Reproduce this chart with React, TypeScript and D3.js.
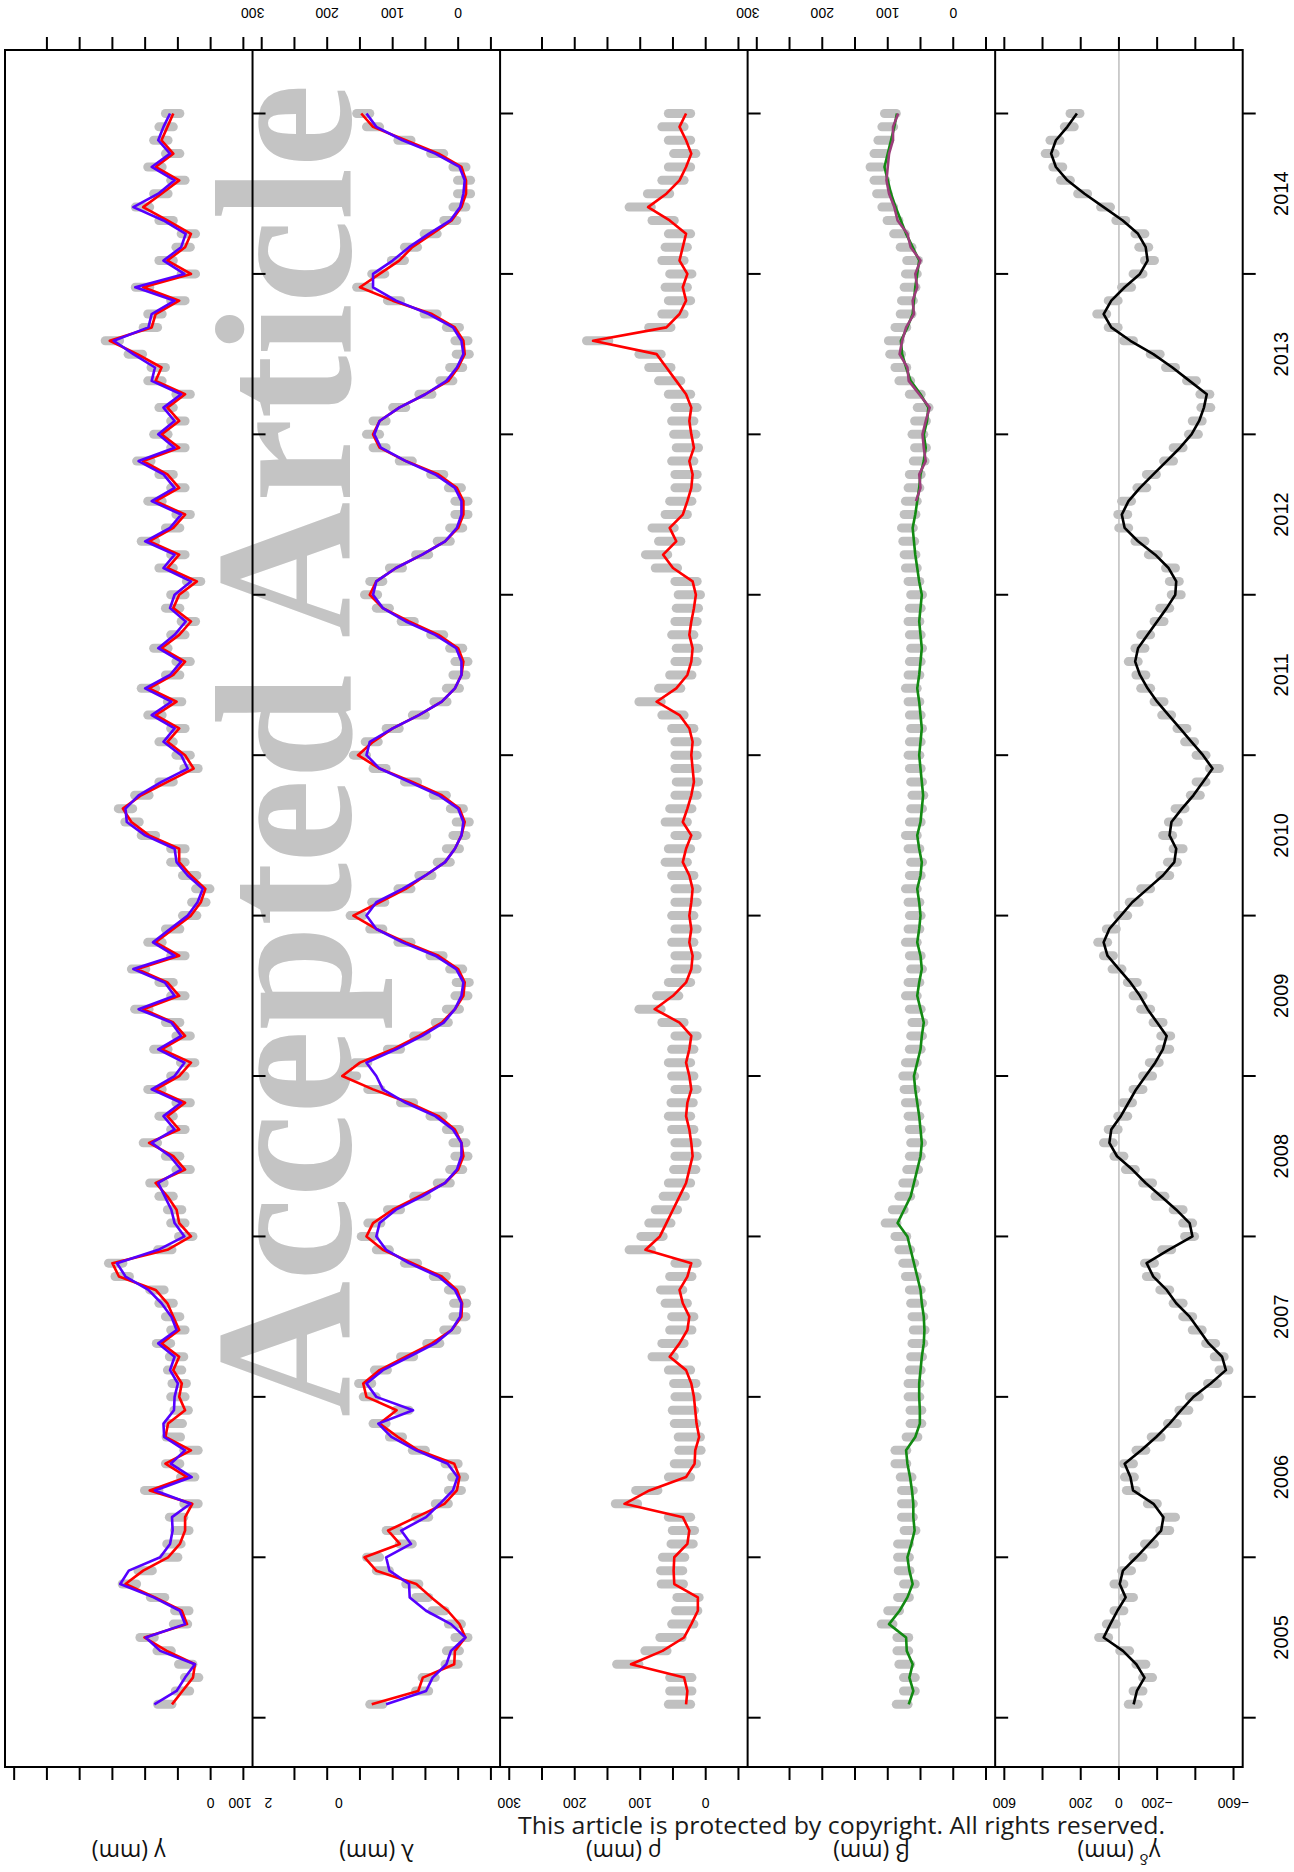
import React from "react";
import * as d3 from "d3";

// ---------- DATA (monthly, Jan 2005 .. Dec 2014) ----------
const years = [2005, 2006, 2007, 2008, 2009, 2010, 2011, 2012, 2013, 2014];

const gammaRed = [
  59, 43, 27, 24, 67, 101, 36, 44, 85, 130, 103, 65,
  47, 39, 39, 28, 93, 36, 69, 30, 69, 65, 39, 48,
  44, 57, 48, 75, 48, 57, 66, 84, 140, 150, 66, 30,
  48, 52, 66, 84, 39, 57, 94, 48, 66, 39, 84, 48,
  30, 75, 39, 57, 103, 48, 66, 112, 48, 84, 57, 30,
  15, 8, 30, 48, 48, 94, 121, 134, 106, 66, 26, 39,
  66, 48, 84, 52, 94, 57, 39, 75, 48, 30, 57, 48,
  21, 66, 48, 94, 57, 39, 84, 48, 66, 103, 48, 75,
  48, 66, 39, 84, 75, 112, 154, 90, 84, 48, 103, 30,
  66, 39, 30, 66, 103, 75, 48, 84, 57, 75, 66, 57,
];
const gammaBlue = [
  86, 52, 39, 24, 77, 99, 39, 47, 87, 138, 125, 77,
  62, 58, 59, 31, 85, 29, 61, 39, 71, 72, 56, 55,
  50, 62, 55, 80, 52, 60, 75, 95, 130, 143, 80, 40,
  55, 60, 70, 80, 45, 62, 90, 55, 72, 45, 90, 55,
  40, 80, 45, 60, 110, 55, 70, 118, 55, 88, 62, 35,
  20, 12, 35, 52, 55, 100, 128, 130, 110, 75, 35, 45,
  72, 55, 90, 60, 100, 62, 45, 80, 55, 38, 62, 55,
  30, 72, 55, 100, 62, 45, 90, 55, 72, 110, 55, 80,
  55, 72, 45, 90, 85, 118, 148, 95, 90, 55, 115, 40,
  72, 45, 38, 72, 118, 80, 55, 90, 62, 80, 72, 62,
];
const gammaObs = [
  70, 43, 29, 38, 71, 97, 46, 44, 81, 124, 100, 61,
  56, 44, 52, 30, 90, 35, 58, 30, 57, 54, 45, 50,
  48, 55, 52, 72, 50, 58, 68, 82, 135, 145, 70, 38,
  50, 55, 68, 82, 42, 58, 92, 50, 68, 42, 85, 50,
  35, 76, 42, 58, 105, 50, 68, 110, 50, 85, 58, 32,
  18, 12, 32, 50, 50, 95, 120, 130, 105, 68, 30, 42,
  68, 50, 85, 55, 95, 58, 42, 76, 50, 34, 58, 50,
  26, 68, 50, 95, 58, 42, 85, 50, 68, 102, 50, 76,
  50, 68, 42, 85, 80, 115, 150, 92, 85, 50, 104, 34,
  68, 42, 34, 68, 104, 76, 50, 85, 58, 76, 68, 58,
];

const lambdaRed = [
  132, 61, 54, 6, 5, -11, -2, 16, 41, 64, 125, 143,
  89, 107, 64, 21, 2, -2, 6, 61, 92, 120, 94, 140,
  145, 120, 80, 40, 10, -5, -6, 2, 25, 70, 115, 140,
  130, 100, 60, 20, 0, -8, -5, 5, 30, 75, 130, 177,
  150, 100, 60, 25, 5, -8, -10, 0, 30, 80, 125, 160,
  120, 80, 50, 20, 5, -5, -10, -2, 25, 70, 120, 153,
  130, 100, 60, 25, 5, -5, -8, 0, 30, 75, 115, 135,
  125, 95, 55, 20, 0, -8, -8, 2, 30, 80, 120, 130,
  120, 90, 50, 15, 0, -10, -8, 5, 40, 100, 150, 120,
  90, 70, 40, 10, -5, -12, -12, -5, 30, 80, 130, 148,
];
const lambdaBlue = [
  110, 49, 39, 18, 11, -11, 11, 49, 74, 75, 105, 110,
  72, 87, 49, 28, 8, 1, 16, 64, 102, 122, 69, 125,
  140, 115, 75, 35, 10, -3, -5, 5, 30, 75, 110, 125,
  120, 95, 55, 20, 2, -5, -5, 8, 35, 80, 115, 125,
  140, 95, 55, 22, 5, -5, -8, 3, 35, 85, 125, 140,
  125, 85, 50, 20, 5, -5, -8, 0, 30, 75, 120, 140,
  135, 100, 60, 25, 5, -5, -5, 3, 35, 80, 115, 130,
  125, 95, 55, 20, 2, -5, -5, 5, 35, 80, 118, 128,
  120, 90, 50, 18, 2, -8, -5, 8, 45, 95, 130, 130,
  100, 75, 45, 12, -3, -8, -10, -2, 35, 85, 125, 140,
];
const lambdaObs = [
  125, 55, 45, 10, 8, -5, 5, 30, 55, 70, 115, 130,
  80, 100, 55, 25, 5, 0, 10, 60, 95, 120, 85, 135,
  142, 118, 78, 38, 12, -2, -3, 5, 28, 72, 115, 138,
  128, 98, 58, 22, 3, -5, -2, 8, 33, 78, 128, 165,
  148, 98, 58, 25, 8, -5, -7, 3, 33, 82, 125, 155,
  122, 82, 50, 22, 8, -2, -7, 2, 28, 72, 120, 150,
  132, 100, 60, 27, 8, -2, -5, 3, 32, 77, 115, 133,
  125, 95, 55, 22, 3, -5, -5, 5, 32, 80, 120, 130,
  120, 90, 50, 18, 3, -7, -5, 8, 42, 98, 145, 122,
  92, 72, 42, 12, -2, -9, -9, -2, 32, 82, 130, 145,
];

const rhoRed = [
  30, 28, 33, 114, 66, 33, 22, 12, 12, 48, 49, 48,
  28, 25, 35, 124, 86, 30, 17, 16, 10, 14, 16, 18,
  22, 30, 55, 40, 28, 25, 35, 40, 28, 22, 92, 70,
  60, 50, 40, 30, 25, 20, 22, 25, 30, 28, 22, 25,
  30, 25, 22, 40, 78, 50, 30, 22, 20, 25, 22, 25,
  22, 20, 25, 35, 30, 22, 35, 28, 22, 18, 20, 22,
  20, 25, 40, 75, 45, 28, 22, 20, 25, 22, 18, 15,
  20, 50, 65, 45, 55, 35, 28, 22, 20, 25, 18, 22,
  25, 22, 30, 45, 60, 75, 172, 60, 40, 30, 35, 28,
  40, 35, 30, 55, 88, 60, 40, 30, 22, 30, 40, 30,
];
const rhoObs = [
  40, 38, 38, 119, 76, 53, 35, 29, 27, 51, 52, 49,
  36, 34, 40, 121, 90, 40, 31, 24, 25, 31, 34, 30,
  32, 40, 65, 50, 38, 35, 45, 52, 38, 30, 100, 82,
  70, 60, 48, 40, 32, 30, 30, 35, 40, 36, 30, 35,
  40, 35, 30, 50, 85, 58, 40, 30, 30, 35, 30, 35,
  30, 30, 35, 45, 40, 30, 45, 38, 30, 28, 30, 30,
  30, 35, 50, 85, 55, 38, 30, 28, 35, 30, 28, 25,
  30, 60, 75, 55, 65, 45, 38, 30, 30, 35, 28, 32,
  35, 30, 40, 55, 70, 85, 165, 70, 50, 40, 45, 38,
  50, 45, 40, 65, 100, 72, 50, 40, 32, 40, 50, 40,
];

const betaGreen = [
  68, 61, 67, 62, 71, 72, 98, 82, 70, 62, 67, 70,
  64, 59, 61, 61, 63, 66, 70, 72, 58, 51, 51, 52,
  52, 50, 48, 45, 44, 45, 48, 50, 55, 60, 65, 70,
  85, 75, 65, 60, 55, 50, 48, 50, 52, 55, 58, 60,
  55, 50, 48, 45, 50, 55, 52, 48, 50, 55, 52, 50,
  52, 55, 50, 48, 52, 55, 50, 48, 46, 48, 50, 52,
  50, 48, 50, 52, 55, 52, 50, 48, 50, 52, 50, 48,
  52, 55, 58, 60, 62, 58, 55, 52, 50, 45, 42, 45,
  40, 38, 50, 65, 72, 78, 80, 70, 62, 60, 58, 55,
  52, 62, 72, 80, 88, 95, 100, 105, 100, 95, 90, 86,
];
// second β series, only from Jul 2012 (index 90) onwards
const betaSecondStart = 90;
const betaSecond = [
  57, 50, 52, 42, 45, 47,
  42, 36, 52, 68, 70, 82, 78, 72, 60, 62, 55, 58,
  50, 65, 70, 85, 90, 98, 102, 100, 98, 92, 92, 84,
];
const betaObs = [
  78, 67, 67, 74, 77, 77, 101, 91, 76, 67, 75, 76,
  76, 66, 70, 70, 70, 72, 80, 80, 63, 57, 57, 60,
  60, 58, 56, 54, 52, 54, 56, 58, 64, 68, 74, 80,
  95, 84, 74, 68, 62, 58, 56, 58, 60, 64, 66, 68,
  64, 58, 56, 54, 58, 64, 60, 56, 58, 64, 60, 58,
  60, 64, 58, 56, 60, 64, 58, 56, 54, 56, 58, 60,
  58, 56, 58, 60, 64, 60, 58, 56, 58, 60, 58, 56,
  60, 64, 66, 68, 70, 66, 64, 60, 58, 52, 50, 54,
  50, 46, 58, 74, 80, 88, 90, 80, 72, 70, 66, 64,
  62, 72, 82, 92, 100, 108, 112, 118, 112, 106, 100, 96,
];

const gdBlack = [
  -77, -94, -134, -91, -21, 80, 45, 8, -35, -4, -21, -91,
  -157, -221, -233, -181, -74, -60, -30, -117, -195, -265, -326, -390,
  -480, -560, -540, -470, -420, -370, -300, -250, -180, -145, -260, -385,
  -370, -300, -220, -140, -70, 10, 50, 40, -10, -50, -90, -140,
  -190, -230, -250, -200, -150, -110, -60, 0, 60, 80, 50, -10,
  -70, -150, -230, -290, -300, -265, -275, -330, -390, -440, -490, -440,
  -380, -320, -260, -200, -150, -110, -85, -100, -150, -200, -250, -295,
  -300, -260, -190, -100, -30, -15, -50, -110, -180, -250, -320, -380,
  -420, -445, -460, -370, -280, -180, -60, 40, 80, 40, -30, -110,
  -150, -140, -100, -20, 80, 180, 270, 330, 355, 330, 270, 220,
];
const gdObs = [
  -75, -100, -150, -115, -30, 80, 40, 0, -50, 0, -40, -100,
  -160, -240, -270, -175, -65, -55, -50, -115, -195, -280, -340, -395,
  -490, -550, -525, -480, -410, -360, -310, -240, -170, -160, -250, -370,
  -360, -310, -215, -150, -60, 0, 55, 30, -20, -45, -100, -150,
  -185, -240, -245, -205, -140, -100, -70, 10, 55, 85, 40, -20,
  -80, -140, -240, -280, -310, -255, -285, -320, -400, -430, -500, -430,
  -370, -330, -250, -210, -140, -115, -75, -110, -140, -210, -240, -300,
  -290, -270, -180, -110, -25, -20, -40, -120, -170, -260, -310, -390,
  -410, -455, -450, -380, -270, -190, -50, 30, 90, 30, -40, -100,
  -160, -130, -110, -10, 70, 190, 280, 320, 360, 335, 260, 230,
];

// axis ticks / labels
const mmTicksFull = [300, 250, 200, 150, 100, 50, 0, -50];
const mmTicksShort = [250, 200, 150, 100, 50, 0, -50];
const mmLabels = [300, 200, 100, 0];
const gdTicks = [600, 400, 200, 0, -200, -400, -600];
const gdLabels = [600, 200, 0, -200, -600];
const gammaLabels = [0];
const strayBottomLabels = [
  { text: "100", value: -45 },
  { text: "2", value: -88 },
  { text: "0", value: -196 },
];
const timeTicks = [2005, 2006, 2007, 2008, 2009, 2010, 2011, 2012, 2013, 2014, 2015];

// ---------- LAYOUT ----------
const PL = 5, PR = 1242.7, PT = 50, PB = 1767;
const PW = (PR - PL) / 5;
const MM_DOMAIN = [314, -64];
const GD_DOMAIN = [648, -648];
const TICK = 13;
const SANS = "'Liberation Sans', Arial, sans-serif";
const HUMAN = "'Open Sans', 'Noto Sans', sans-serif";

const fmt = (v: number) => (v < 0 ? "\u2212" + Math.abs(v) : String(v));

export default function App() {
  const yScale = d3.scaleLinear().domain([2005, 2015]).range([1717.7, 113.5]);
  const times = d3.range(120).map((i) => 2005 + (i + 1) / 12);

  const mk = (k: number, dom: number[]) =>
    d3.scaleLinear().domain(dom).range([PL + k * PW, PL + (k + 1) * PW]);

  const panels = [
    {
      title: "γ", x: mk(0, MM_DOMAIN), obs: gammaObs, spread: 11,
      lines: [{ v: gammaRed, c: "#ff0000", s: 0 }, { v: gammaBlue, c: "#5500ff", s: 0 }],
      bottomTicks: mmTicksFull, topTicks: mmTicksShort, bottomLabels: gammaLabels, topLabels: [] as number[],
    },
    {
      title: "λ", x: mk(1, MM_DOMAIN), obs: lambdaObs, spread: 10,
      lines: [{ v: lambdaRed, c: "#ff0000", s: 0 }, { v: lambdaBlue, c: "#5500ff", s: 0 }],
      bottomTicks: mmTicksShort, topTicks: mmTicksFull, bottomLabels: [] as number[], topLabels: mmLabels,
    },
    {
      title: "ρ", x: mk(2, MM_DOMAIN), obs: rhoObs, spread: 17,
      lines: [{ v: rhoRed, c: "#ff0000", s: 0 }],
      bottomTicks: mmTicksFull, topTicks: mmTicksShort, bottomLabels: mmLabels, topLabels: [] as number[],
    },
    {
      title: "β", x: mk(3, MM_DOMAIN), obs: betaObs, spread: 9,
      lines: [{ v: betaGreen, c: "#128a12", s: 0 }, { v: betaSecond, c: "#9b3d7a", s: betaSecondStart }],
      bottomTicks: mmTicksShort, topTicks: mmTicksFull, bottomLabels: [] as number[], topLabels: mmLabels,
    },
    {
      title: "γδ", x: mk(4, GD_DOMAIN), obs: gdObs, spread: 26,
      lines: [{ v: gdBlack, c: "#000000", s: 0 }],
      bottomTicks: gdTicks, topTicks: gdTicks, bottomLabels: gdLabels, topLabels: [] as number[],
    },
  ];

  return (
    <svg
      width={1294}
      height={1872}
      style={{ position: "absolute", left: 0, top: 0, background: "#fff" }}
    >
      <rect x={0} y={0} width={1294} height={1872} fill="#fff" />
      {/* watermark */}
      <text
        transform={`translate(350,1417) rotate(-90)`}
        fontFamily="'Liberation Serif', 'Times New Roman', serif"
        fontWeight="bold"
        fontSize={196}
        fill="#c4c4c4"
        textLength={1333}
        lengthAdjust="spacingAndGlyphs"
      >
        Accepted Article
      </text>

      {/* γδ zero line */}
      <line
        x1={panels[4].x(0)} x2={panels[4].x(0)} y1={PT} y2={PB}
        stroke="#bdbdbd" strokeWidth={1.5}
      />

      {panels.map((p, k) => (
        <g key={k}>
          {/* grey bars */}
          {p.obs.map((v, i) => (
            <line
              key={"b" + i}
              x1={p.x(v + p.spread)}
              x2={p.x(v - p.spread)}
              y1={yScale(times[i])}
              y2={yScale(times[i])}
              stroke="#c0c0c0"
              strokeWidth={9}
              strokeLinecap="round"
            />
          ))}
          {/* lines */}
          {p.lines.map((l, j) => {
            const gen = d3
              .line<number>()
              .x((d) => p.x(d))
              .y((_, i) => yScale(times[i + l.s]));
            return (
              <path
                key={"l" + j}
                d={gen(l.v) || ""}
                fill="none"
                stroke={l.c}
                strokeWidth={2.6}
                strokeLinejoin="round"
              />
            );
          })}
          {/* time ticks at panel right edge */}
          {timeTicks.map((t) => (
            <line
              key={"t" + t}
              x1={PL + (k + 1) * PW}
              x2={PL + (k + 1) * PW + TICK}
              y1={yScale(t)}
              y2={yScale(t)}
              stroke="#000"
              strokeWidth={2}
            />
          ))}
          {/* value ticks */}
          {p.bottomTicks.map((v) => (
            <line key={"bt" + v} x1={p.x(v)} x2={p.x(v)} y1={PB} y2={PB + TICK} stroke="#000" strokeWidth={2} />
          ))}
          {p.topTicks.map((v) => (
            <line key={"tt" + v} x1={p.x(v)} x2={p.x(v)} y1={PT} y2={PT - TICK} stroke="#000" strokeWidth={2} />
          ))}
          {p.bottomLabels.map((v) => (
            <text
              key={"bl" + v}
              transform={`translate(${p.x(v)},1798) rotate(180)`}
              textAnchor="middle"
              fontFamily={SANS}
              fontSize={14}
            >
              {fmt(v)}
            </text>
          ))}
          {p.topLabels.map((v) => (
            <text
              key={"tl" + v}
              transform={`translate(${p.x(v) - (v === 300 ? 9 : 0)},8) rotate(180)`}
              textAnchor="middle"
              fontFamily={SANS}
              fontSize={14}
            >
              {fmt(v)}
            </text>
          ))}
          {/* axis title (upside-down) */}
          <text
            transform={`translate(${PL + (k + 0.5) * PW},1844) rotate(180)`}
            textAnchor="middle"
            fontFamily={HUMAN}
            fontSize={23}
            fill="#111"
          >
            {p.title === "γδ" ? (
              <>
                γ<tspan fontSize={15} dy={-10}>δ</tspan>
                <tspan dy={10}> (mm)</tspan>
              </>
            ) : (
              `${p.title} (mm)`
            )}
          </text>
        </g>
      ))}

      {strayBottomLabels.map((s, i) => (
        <text
          key={"s" + i}
          transform={`translate(${panels[0].x(s.value)},1798) rotate(180)`}
          textAnchor="middle"
          fontFamily={SANS}
          fontSize={14}
        >
          {s.text}
        </text>
      ))}

      {/* frame and dividers */}
      <rect x={PL} y={PT} width={PR - PL} height={PB - PT} fill="none" stroke="#000" strokeWidth={2} />
      {[1, 2, 3, 4].map((k) => (
        <line key={"d" + k} x1={PL + k * PW} x2={PL + k * PW} y1={PT} y2={PB} stroke="#000" strokeWidth={2} />
      ))}

      {/* year labels */}
      {years.map((y) => (
        <text
          key={"y" + y}
          transform={`translate(1288,${yScale(y + 0.5)}) rotate(-90)`}
          textAnchor="middle"
          fontFamily={SANS}
          fontSize={20}
        >
          {y}
        </text>
      ))}

      {/* footer */}
      <text
        x={518}
        y={1834}
        fontFamily={HUMAN}
        fontSize={24}
        fill="#1a1a1a"
        textLength={647}
        lengthAdjust="spacingAndGlyphs"
      >
        This article is protected by copyright. All rights reserved.
      </text>
    </svg>
  );
}
